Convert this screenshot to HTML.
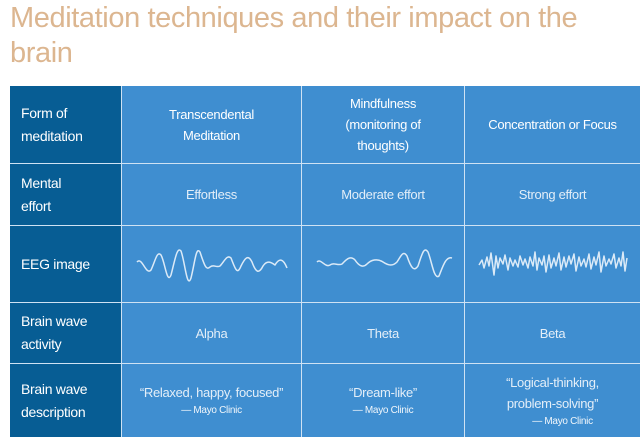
<!DOCTYPE html>
<html><head><meta charset="utf-8"><style>
body{margin:0;width:640px;height:447px;background:#fff;overflow:hidden;position:relative;font-family:"Liberation Sans",sans-serif}
.t{position:absolute;left:10px;top:1px;font-size:29px;color:#dcb690;line-height:35px;letter-spacing:-0.4px}
.c{position:absolute;display:flex;align-items:center;justify-content:center;text-align:center;color:#e3eef8;font-size:13px;line-height:21px;background:#3f8ed0;box-sizing:border-box;letter-spacing:-0.3px}
.h{justify-content:flex-start;text-align:left;background:#075d94;color:#fff;padding-left:11px;font-size:14px;line-height:23px}
.w{color:#fff}
.s{font-size:10px;color:#f0f6fb}
</style></head><body>
<div class="t">Meditation techniques and their impact on the<br>brain</div>
<div style="position:absolute;left:10px;top:86px;width:630px;height:351px;background:#cfe2f3"></div>
<!-- row 1 -->
<div class="c h" style="left:10px;top:86px;width:111px;height:77px">Form of<br>meditation</div>
<div class="c w" style="left:122px;top:86px;width:179px;height:77px">Transcendental<br>Meditation</div>
<div class="c w" style="left:302px;top:86px;width:162px;height:77px">Mindfulness<br>(monitoring of<br>thoughts)</div>
<div class="c w" style="left:465px;top:86px;width:175px;height:77px">Concentration or Focus</div>
<!-- row 2 -->
<div class="c h" style="left:10px;top:164px;width:111px;height:61px">Mental<br>effort</div>
<div class="c" style="left:122px;top:164px;width:179px;height:61px">Effortless</div>
<div class="c" style="left:302px;top:164px;width:162px;height:61px">Moderate effort</div>
<div class="c" style="left:465px;top:164px;width:175px;height:61px">Strong effort</div>
<!-- row 3 -->
<div class="c h" style="left:10px;top:226px;width:111px;height:76px">EEG image</div>
<div class="c" style="left:122px;top:226px;width:179px;height:76px"></div>
<div class="c" style="left:302px;top:226px;width:162px;height:76px"></div>
<div class="c" style="left:465px;top:226px;width:175px;height:76px"></div>
<!-- row 4 -->
<div class="c h" style="left:10px;top:303px;width:111px;height:60px">Brain wave<br>activity</div>
<div class="c" style="left:122px;top:303px;width:179px;height:60px">Alpha</div>
<div class="c" style="left:302px;top:303px;width:162px;height:60px">Theta</div>
<div class="c" style="left:465px;top:303px;width:175px;height:60px">Beta</div>
<!-- row 5 -->
<div class="c h" style="left:10px;top:364px;width:111px;height:73px">Brain wave<br>description</div>
<div class="c" style="left:122px;top:364px;width:179px;height:73px;flex-direction:column">“Relaxed, happy, focused”<span class="s" style="line-height:16px">— Mayo Clinic</span></div>
<div class="c" style="left:302px;top:364px;width:162px;height:73px;flex-direction:column">“Dream-like”<span class="s" style="line-height:16px">— Mayo Clinic</span></div>
<div class="c" style="left:465px;top:364px;width:175px;height:73px;flex-direction:column">“Logical-thinking,<br>problem-solving”<span class="s" style="line-height:16px;padding-left:20px">— Mayo Clinic</span></div>
<svg style="position:absolute;left:0;top:0" width="640" height="447">
<g fill="none" stroke="#dbeaf7" stroke-width="1.5" stroke-linejoin="round">
<path d="M137 262 C142 256 146 276 151 270 C155 262 157 250 161 255 C165 262 167 285 171 275 C175 260 177 246 181 251 C185 262 187 290 191 278 C195 262 196 246 200 252 C204 264 206 271 210 267 C214 264 216 268 220 266 C224 262 227 254 231 258 C235 268 237 276 241 266 C245 258 248 254 252 262 C256 273 259 274 263 266 C267 260 271 262 275 265 C279 258 283 258 287 268"/>
<path d="M317 262 C321 258 325 268 330 265 C334 262 338 266 342 264 C346 260 350 255 355 260 C359 266 363 268 367 264 C371 260 377 258 383 262 C389 266 393 266 397 262 C401 256 403 250 407 256 C411 268 414 272 418 266 C422 254 424 246 428 252 C432 262 434 280 439 276 C443 266 446 256 452 258"/>
<path d="M479 265 L482 260 L484 268 L487 257 L489 266 L491 253 L494 275 L496 256 L498 268 L500 258 L503 264 L505 255 L508 270 L510 258 L513 266 L515 260 L518 267 L520 256 L523 265 L525 259 L528 268 L530 257 L533 266 L535 252 L537 270 L539 258 L542 265 L544 256 L546 272 L549 255 L551 268 L554 258 L556 266 L559 253 L561 270 L564 257 L566 267 L569 256 L571 264 L574 254 L576 271 L579 257 L581 266 L584 259 L586 267 L589 254 L591 269 L594 257 L596 265 L599 252 L601 272 L604 256 L606 266 L609 259 L611 264 L614 254 L616 268 L619 258 L621 266 L623 252 L625 271 L627 258"/>
</g></svg>
</body></html>
